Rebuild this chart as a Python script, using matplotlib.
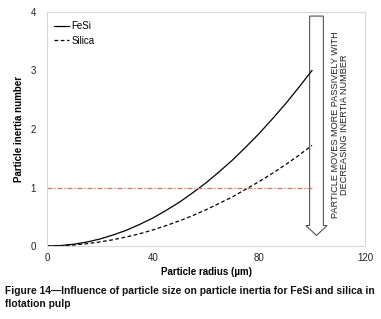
import matplotlib
matplotlib.use("Agg")
import matplotlib.pyplot as plt
from matplotlib.patches import FancyArrow

plt.rcParams['font.family'] = ['Liberation Sans', 'DejaVu Sans']

radius = [0, 5, 10, 15, 20, 25, 30, 35, 40, 45, 50, 55, 60, 65, 70, 75, 80, 85, 90, 95, 100]
fesi = [0, 0.0075, 0.03, 0.0675, 0.12, 0.19, 0.27, 0.37, 0.48, 0.61, 0.75, 0.91, 1.08,
        1.27, 1.47, 1.69, 1.92, 2.17, 2.43, 2.71, 3.0]
silica = [0, 0.004, 0.017, 0.039, 0.07, 0.108, 0.155, 0.21, 0.275, 0.35, 0.43, 0.52, 0.62,
          0.73, 0.84, 0.97, 1.10, 1.24, 1.39, 1.55, 1.72]
threshold_x = [0, 100]
threshold_y = [1, 1]
xticks = [0, 40, 80, 120]
yticks = [0, 1, 2, 3, 4]
arrow_text = "PARTICLE MOVES MORE PASSIVELY WITH\nDECREASING INERTIA NUMBER"
caption = ("Figure 14\u2014Influence of particle size on particle inertia for FeSi and silica in\n"
           "flotation pulp")

fig = plt.figure(figsize=(3.81, 3.19), dpi=100)
ax = fig.add_axes([0.1234, 0.2288, 0.8346, 0.7336])

ax.plot(radius, fesi, color='black', lw=0.9, label='FeSi')
ax.plot(radius, silica, color='black', lw=0.9, ls=(0, (3, 2)), label='Silica')
ax.plot(threshold_x, threshold_y, color='#E07050', lw=0.9, ls=(0, (4, 1.5, 1, 1.5)))

ax.set_xlim(0, 120)
ax.set_ylim(0, 4)
ax.set_xticks(xticks)
ax.set_yticks(yticks)
ax.tick_params(axis='x', length=0, labelsize=7, colors='#222222', pad=5)
ax.tick_params(axis='y', length=0, labelsize=7, colors='#222222', pad=8)
for s in ax.spines.values():
    s.set_color('#d9d9d9')
    s.set_linewidth(0.8)

ax.set_xlabel('Particle radius (\u00b5m)', fontsize=7, fontweight='bold', labelpad=3)
ax.set_ylabel('Particle inertia number', fontsize=7, fontweight='bold', labelpad=5)

leg = ax.legend(loc='upper left', frameon=False, fontsize=7, handlelength=1.6,
                handletextpad=0.2, borderaxespad=0.3, labelspacing=0.45,
                bbox_to_anchor=(0.0, 0.99))

# hollow arrow
arr = FancyArrow(101.7, 3.93, 0, -3.75, width=5.2, head_width=8.0,
                 head_length=0.17, length_includes_head=True,
                 facecolor='white', edgecolor='#555555', lw=0.8)
ax.add_patch(arr)

ax.text(110.5, 2.07, arrow_text, rotation=90, ha='center', va='center',
        fontsize=6.6, multialignment='center', linespacing=1.0, color='#222222')

fig.text(0.012, 0.03, caption, fontsize=7.4, fontweight='bold', ha='left', va='bottom',
         linespacing=1.45, color='#111111')

fig.savefig('out.png', dpi=100)
